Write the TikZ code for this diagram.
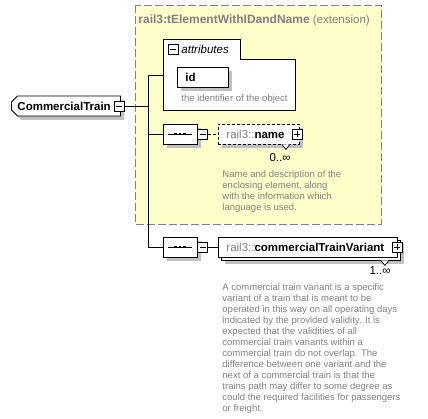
\documentclass[tikz,border=0pt]{standalone}
\usepackage{fontspec}
\setmainfont{Liberation Sans}
\usetikzlibrary{positioning,shapes.misc,shadows}

\definecolor{extfill}{RGB}{255,255,204}
\definecolor{extline}{RGB}{128,128,128}
\definecolor{greytext}{RGB}{128,128,128}
\definecolor{shadegrey}{RGB}{192,192,192}

\begin{document}
\begin{tikzpicture}
    [x=1pt,y=-1pt
    ,line width=0.9pt
    ,every node/.style={inner sep=0pt,font=\fontsize{11.5}{13}\selectfont}
    ,shade/.style={drop shadow={shadow xshift=4pt,shadow yshift=-4pt,fill=shadegrey,opacity=1}}
    ,multi/.style={drop shadow={shadow xshift=7pt,shadow yshift=-7pt,fill=shadegrey,opacity=1},copy shadow={shadow xshift=3pt,shadow yshift=-3pt}}
    ,elem/.style={draw,fill=white,minimum height=20pt,inner xsep=8pt,anchor=west}
    ,seqbox/.style={draw,fill=white,shade,chamfered rectangle,chamfered rectangle xsep=5pt,chamfered rectangle ysep=5pt,minimum width=34pt,minimum height=20pt}
    ,tog/.style={draw,fill=white,minimum size=10pt}
    ,minus/.style={tog,path picture={\draw[line width=0.8pt] ([xshift=2pt]path picture bounding box.west) -- ([xshift=-2pt]path picture bounding box.east);}}
    ,plus/.style={tog,path picture={\draw[line width=0.8pt] ([xshift=2pt]path picture bounding box.west) -- ([xshift=-2pt]path picture bounding box.east) ([yshift=2pt]path picture bounding box.south) -- ([yshift=-2pt]path picture bounding box.north);}}
    ,dots/.style={line width=2.6pt,dash pattern=on 2.6pt off 2.1pt}
    ,desc/.style={align=left,anchor=north west,text=greytext,font=\fontsize{9.5}{11}\selectfont}
    ]

    \useasboundingbox (0,0) rectangle (428,419);

    \draw[extline,dash pattern=on 8pt off 3pt,fill=extfill] (135,5) rectangle (381,224);
    \node[anchor=west,text=extline] (ext) at (138,20) {\textbf{\fontsize{12}{13}\selectfont rail3:tElementWithIDandName} (extension)};

    \draw[fill=white] (163,110) |- (240,39) |- (295,59) |- cycle;
    \node[minus] (atm) at (173,49) {};
    \node[anchor=west] (att) at (181,49) {\itshape attributes};
    \node[elem,shade,text width=35pt] (id) at (177,77) {\bfseries id};
    \node[anchor=west,text=greytext,font=\fontsize{9.5}{11}\selectfont] (idd) at (181,99) {the identifier of the object};
    \coordinate (attr) at (163,75);

    \node[elem,shade,inner xsep=3pt,text width=97pt,chamfered rectangle,chamfered rectangle corners={north west,south west},chamfered rectangle xsep=3pt,chamfered rectangle ysep=3pt] (ct) at (11,106) {\bfseries CommercialTrain};
    \node[minus] (ctm) at (119,106) {};
    \coordinate (b1) at (148,75);
    \coordinate (b2) at (148,247);

    \node[seqbox] (s1) at (180,134) {};
    \node[minus] (s1m) at (202.5,134) {};
    \node[elem,shade,dash pattern=on 3pt off 2pt,text width=65pt] (nm) at (218,134) {{\color{greytext}rail3::}\bfseries name};
    \node[plus] (nmp) at (297,134) {};
    \draw[fill=white,line width=0.7pt] ([xshift=-18pt]nm.south east) -- ++(4,5) -- ++(4,-5);
    \node[anchor=east] (nmc) at (291,158) {0..∞};
    \node[desc] (nmd) at (222,170) {Name and description of the\\enclosing element, along\\with the information which\\language is used.};

    \node[seqbox] (s2) at (180,247) {};
    \node[minus] (s2m) at (202.5,247) {};
    \node[elem,multi,text width=163pt] (cv) at (218,247) {{\color{greytext}rail3::}\bfseries commercialTrainVariant};
    \node[plus] (cvp) at (397,247) {};
    \draw[fill=white,line width=0.7pt] ([xshift=-17pt,yshift=-3pt]cv.south east) -- ++(4,5) -- ++(4,-5);
    \node[anchor=east] (cvc) at (391,271) {1..∞};
    \node[desc] (cvd) at (222,283) {A commercial train variant is a specific\\variant of a train that is meant to be\\operated in this way on all operating days\\indicated by the provided validity. It is\\expected that the validities of all\\commercial train variants within a\\commercial train do not overlap. The\\difference between one variant and the\\next of a commercial train is that the\\trains path may differ to some degree as\\could the required facilities for passengers\\or freight.};

    \draw[dots] ([xshift=-6pt]s1.center) -- ([xshift=6pt]s1.center);
    \draw ([xshift=-12pt]s1.center) -- ([xshift=12pt]s1.center);
    \draw[dots] ([xshift=-6pt]s2.center) -- ([xshift=6pt]s2.center);
    \draw ([xshift=-12pt]s2.center) -- ([xshift=12pt]s2.center);

    \draw (ctm) -- (ctm -| b1);
    \draw (b1) -- (b2);
    \draw (b1) -- (attr);
    \draw (s1.west -| b1) -- (s1);
    \draw (b2) -- (s2);
    \draw[dash pattern=on 3pt off 2pt] (s1m) -- (nm);
    \draw (s2m) -- (cv);

\end{tikzpicture}
\end{document}
